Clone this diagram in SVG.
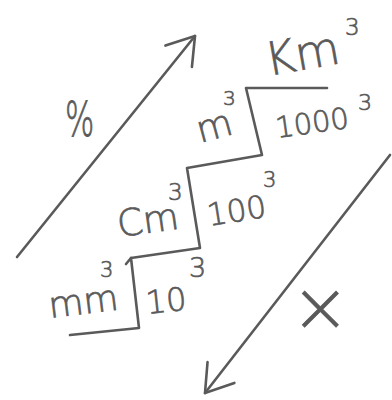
<svg xmlns="http://www.w3.org/2000/svg" width="392" height="400" viewBox="0 0 392 400">
  <style>
    .ln { fill: none; stroke: #5a5a5a; stroke-width: 2.6; stroke-linecap: round; stroke-linejoin: round; }
    .t { font-family: "DejaVu Sans", sans-serif; font-weight: 200; fill: #5a5a5a; stroke: #5a5a5a; stroke-width: 0.7; }
  </style>
  <defs>
    <marker id="open" markerUnits="userSpaceOnUse" orient="auto" refX="0" refY="0" markerWidth="40" markerHeight="40" viewBox="-30 -20 34 40" overflow="visible">
      <path d="M-26,-17 L0,0 L-26,17" class="ln"/>
    </marker>
  </defs>
  <rect width="392" height="400" fill="#ffffff"/>

  <g id="connectors">
    <path id="arrow-up" class="ln" d="M17,257 L195,36" marker-end="url(#open)"/>
    <path id="arrow-down" class="ln" d="M390,155 L205,393" marker-end="url(#open)"/>
    <path id="stairs" class="ln" d="M327,88 L246,88 L262,155 L187,168 L200,248 L131,258 L139,328 L70,335"/>
    <path class="ln" d="M126,264 L131,258"/>
  </g>

  <g id="label-percent">
    <text class="t" font-size="44" transform="translate(65,136) scale(0.7,1.08)">%</text>
  </g>
  <g id="label-times">
    <text class="t" font-size="70" x="291" y="331">×</text>
  </g>

  <g id="step-km">
    <text class="t" font-size="46" x="268" y="76" transform="rotate(-10 268 76)">Km</text>
    <text class="t" font-size="23" x="345" y="35">3</text>
  </g>
  <g id="step-m">
    <text class="t" font-size="37" x="200" y="143" transform="rotate(-15 200 143)">m</text>
    <text class="t" font-size="20" x="223" y="105">3</text>
    <text class="t" font-size="29" x="277" y="138" transform="rotate(-8 277 138)">1000</text>
    <text class="t" font-size="22" x="358" y="110">3</text>
  </g>
  <g id="step-cm">
    <text class="t" font-size="37" x="119" y="237" transform="rotate(-8 119 237)">Cm</text>
    <text class="t" font-size="23" x="168" y="200">3</text>
    <text class="t" font-size="31" x="209" y="226" transform="rotate(-9 209 226)">100</text>
    <text class="t" font-size="21" x="263" y="187">3</text>
  </g>
  <g id="step-mm">
    <text class="t" font-size="36" x="50" y="318" transform="rotate(-7 50 318)">mm</text>
    <text class="t" font-size="21" x="100" y="277">3</text>
    <text class="t" font-size="32" x="147" y="314" transform="rotate(-6 147 314)">10</text>
    <text class="t" font-size="27" x="189" y="277">3</text>
  </g>
</svg>
